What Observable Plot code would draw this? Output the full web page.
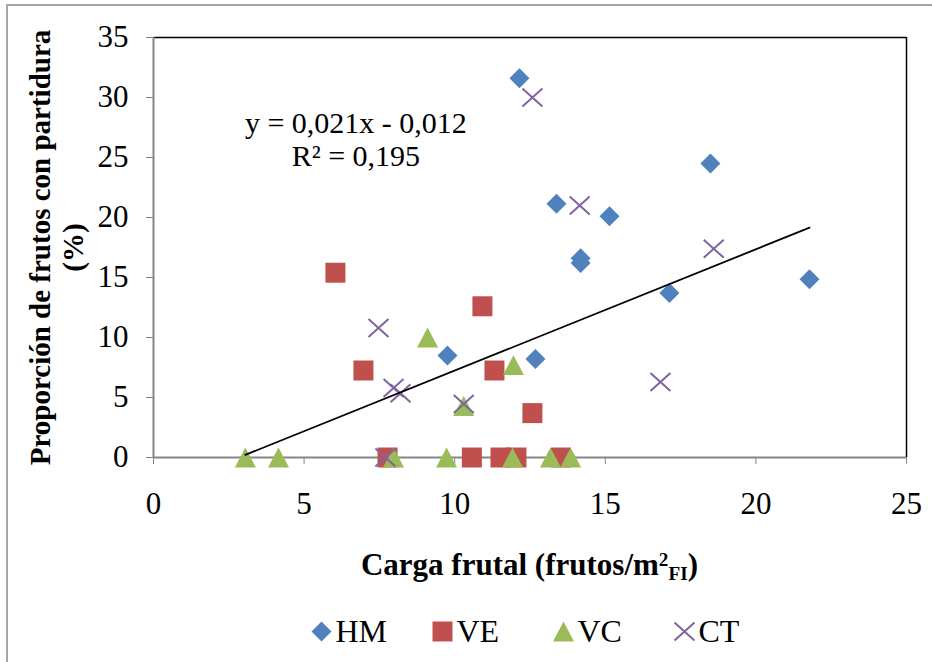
<!DOCTYPE html>
<html><head><meta charset="utf-8">
<script src="https://cdn.jsdelivr.net/npm/d3@7"></script>
<script src="https://cdn.jsdelivr.net/npm/@observablehq/plot@0.6"></script>
<style>
html,body{margin:0;padding:0;background:#fff;}
body{width:932px;height:662px;overflow:hidden;position:relative;font-family:"Liberation Serif","Times New Roman",serif;}
#chart{position:absolute;left:0;top:0;}
#chart svg text{fill:#000;}
#xtitle{position:absolute;left:153px;width:753px;top:530px;height:70px;line-height:70px;text-align:center;font-weight:bold;font-size:31px;color:#000;white-space:nowrap;}
#xtitle sup,#xtitle sub{font-size:0.62em;line-height:0;}
#xtitle sup{vertical-align:0.45em;}
#xtitle sub{vertical-align:-0.28em;}
#legend{position:absolute;left:0;top:600px;}
#legend svg text{fill:#000;}
#frame{position:absolute;left:6px;top:4px;width:960px;height:700px;border:2px solid #a6a6a6;box-sizing:border-box;pointer-events:none;}
</style></head>
<body>
<div id="chart"></div>
<div id="xtitle">Carga frutal (frutos/m<sup>2</sup><sub>FI</sub>)</div>
<div id="legend"></div>
<div id="frame"></div>
<script>
// ---- data ----
const seriesNames = ["HM", "VE", "VC", "CT"];
const hmX = [12.15, 13.38, 15.14, 14.18, 14.18, 18.49, 17.13, 21.78, 9.76, 12.68];
const hmY = [31.6, 21.15, 20.1, 16.6, 16.2, 24.5, 13.7, 14.85, 8.5, 8.2];
const veX = [6.04, 10.92, 6.97, 11.32, 12.58, 7.77, 10.57, 11.52, 12.05, 13.53];
const veY = [15.4, 12.6, 7.25, 7.25, 3.7, 0, 0, 0, 0, 0];
const vcX = [9.1, 11.95, 10.3, 3.05, 4.15, 7.97, 9.73, 11.92, 13.18, 13.85];
const vcY = [10.0, 7.7, 4.3, 0, 0, 0, 0, 0, 0, 0];
const ctX = [12.58, 14.15, 18.6, 16.83, 7.47, 7.97, 8.2, 10.3, 7.7];
const ctY = [30.0, 21.0, 17.4, 6.3, 10.8, 5.8, 5.35, 4.45, 0];
const trendX = [3.05, 21.78];
const trendY = [0.22, 19.15];
const xTicks = [0, 5, 10, 15, 20, 25];
const yTicks = [0, 5, 10, 15, 20, 25, 30, 35];
const eqLines = ["y = 0,021x - 0,012", "R² = 0,195"];
const eqPos = {x: 6.72, y: 24.33};
const yTitle = ["Proporción de frutos con partidura", "(%)"];

// ---- symbols (Excel-like markers) ----
const symDiamond = {draw(c, s){const h=Math.sqrt(s)/2; c.moveTo(0,-h); c.lineTo(h,0); c.lineTo(0,h); c.lineTo(-h,0); c.closePath();}};
const symSquare = {draw(c, s){const h=Math.sqrt(s)/2; c.moveTo(-h,-h); c.lineTo(h,-h); c.lineTo(h,h); c.lineTo(-h,h); c.closePath();}};
const symTriangle = {draw(c, s){const h=Math.sqrt(s)/2, v=h*0.95; c.moveTo(0,-v); c.lineTo(h,v); c.lineTo(-h,v); c.closePath();}};
const symTimes = {draw(c, s){const h=Math.sqrt(s)/2, v=h*0.9; c.moveTo(-h,-v); c.lineTo(h,v); c.moveTo(h,-v); c.lineTo(-h,v);}};
const rFor = w => w / Math.sqrt(Math.PI);

const rows = (xs, ys) => xs.map((x, i) => ({x, y: ys[i]}));
const series = [
  {name: "HM", data: rows(hmX, hmY), symbol: symDiamond, w: 20, fill: "#4F81BD", stroke: "none", sw: 0},
  {name: "VE", data: rows(veX, veY), symbol: symSquare, w: 20, fill: "#C0504D", stroke: "none", sw: 0},
  {name: "VC", data: rows(vcX, vcY), symbol: symTriangle, w: 21, fill: "#9BBB59", stroke: "none", sw: 0},
  {name: "CT", data: rows(ctX, ctY), symbol: symTimes, w: 20, fill: "none", stroke: "#8064A2", sw: 2}
];

const font = '"Liberation Serif", "Times New Roman", serif';

const chart = Plot.plot({
  width: 932, height: 530,
  marginTop: 37, marginBottom: 73, marginLeft: 153, marginRight: 26,
  style: {fontFamily: font, fontSize: "31px", color: "#868686", background: "white", overflow: "visible"},
  x: {domain: [0, 25], ticks: xTicks, tickSize: 7, tickPadding: 27, label: null, tickFormat: d => String(d)},
  y: {domain: [0, 35], ticks: yTicks, tickSize: 7, tickPadding: 18, label: null, tickFormat: d => String(d)},
  marks: [
    Plot.ruleY([35], {stroke: "#000", strokeWidth: 1.5}),
    Plot.ruleX([25], {stroke: "#000", strokeWidth: 1.5}),
    Plot.ruleY([0], {stroke: "#868686", strokeWidth: 2}),
    Plot.ruleX([0], {stroke: "#868686", strokeWidth: 2}),
    ...series.map(s => Plot.dot(s.data, {x: "x", y: "y", symbol: s.symbol, r: rFor(s.w), fill: s.fill, stroke: s.stroke, strokeWidth: s.sw})),
    Plot.line(rows(trendX, trendY), {x: "x", y: "y", stroke: "#000", strokeWidth: 1.8}),
    Plot.text([{x: eqPos.x, y: eqPos.y, t: eqLines.join("\n")}], {x: "x", y: "y", text: "t", textAnchor: "middle", lineAnchor: "bottom", lineHeight: 1.1, fontSize: 30, fill: "#000"}),
    Plot.text([yTitle.join("\n")], {text: d => d, frameAnchor: "left", rotate: -90, dx: -98, textAnchor: "middle", lineAnchor: "middle", lineHeight: 1.15, fontSize: 29, fontWeight: "bold", fill: "#000"})
  ]
});
document.getElementById("chart").appendChild(chart);

const legend = Plot.plot({
  width: 932, height: 62, margin: 0,
  style: {fontFamily: font, fontSize: "32px", background: "transparent", overflow: "visible"},
  x: {type: "point", domain: seriesNames, range: [321, 684], padding: 0, axis: null},
  marks: [
    ...series.map(s => Plot.dot([s.name], {x: d => d, symbol: s.symbol, r: rFor(s.w), fill: s.fill, stroke: s.stroke, strokeWidth: s.sw})),
    Plot.text(seriesNames, {x: d => d, text: d => d, dx: 14, textAnchor: "start", fontSize: 32, fill: "#000"})
  ]
});
document.getElementById("legend").appendChild(legend);
</script>
</body></html>
